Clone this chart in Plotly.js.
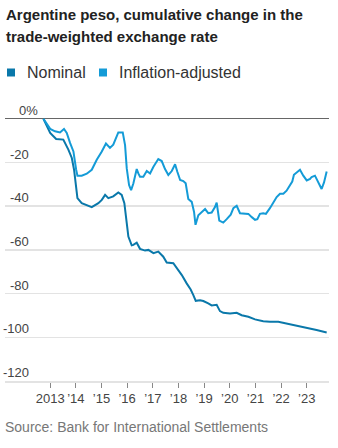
<!DOCTYPE html>
<html><head><meta charset="utf-8">
<script src="https://cdn.plot.ly/plotly-3.0.1.min.js"></script>
<style>html,body{margin:0;padding:0;background:#fff;}#chart{width:338px;height:448px;}</style>
</head><body><div id="chart"></div>
<script>
const nominalDates = ['2012-09-27','2013-01-01','2013-03-27','2013-07-07','2013-09-17','2013-11-05','2013-12-07','2014-01-24','2014-03-26','2014-08-16','2014-11-18','2015-01-06','2015-02-22','2015-04-09','2015-06-18','2015-08-29','2015-10-16','2015-11-23','2015-12-27','2016-01-19','2016-03-07','2016-03-30','2016-05-17','2016-07-03','2016-09-13','2016-10-30','2017-01-10','2017-03-20','2017-05-30','2017-07-18','2017-10-20','2017-12-31','2018-02-18','2018-04-28','2018-06-24','2018-08-01','2018-09-04','2018-11-04','2018-12-21','2019-03-01','2019-04-19','2019-06-29','2019-08-15','2019-10-01','2020-01-05','2020-04-09','2020-06-19','2020-09-22','2020-12-26','2021-04-22','2021-07-26','2021-11-22','2022-02-02','2022-06-23','2022-09-27','2023-01-01','2023-05-21','2023-10-12'];
const nominalValues = [0,-6.4,-9.2,-9.5,-14.1,-17.9,-23.3,-36.3,-38.6,-40.4,-38.6,-37.1,-34.8,-36.3,-35.5,-33.7,-34.8,-38.6,-47.7,-53.9,-57.9,-57.7,-56.7,-59.5,-60.3,-60,-61.5,-60.8,-63.1,-65.8,-66.1,-69.2,-71.5,-75.3,-78.1,-80.7,-83.3,-83,-83.4,-84.5,-85.4,-85.1,-88,-88.8,-89.1,-88.8,-89.9,-90.6,-91.8,-92.6,-92.9,-92.9,-93.4,-94.1,-94.8,-95.7,-96.7,-97.8];
const inflationDates = ['2012-09-27','2013-01-01','2013-03-11','2013-05-21','2013-07-17','2013-08-25','2013-10-11','2013-11-28','2014-01-06','2014-01-24','2014-03-26','2014-06-06','2014-08-16','2014-10-26','2015-01-06','2015-03-06','2015-05-02','2015-06-18','2015-08-29','2015-10-31','2015-12-03','2015-12-27','2016-01-29','2016-02-27','2016-03-30','2016-05-17','2016-06-09','2016-07-03','2016-08-19','2016-10-07','2016-11-23','2017-01-10','2017-03-20','2017-05-08','2017-06-24','2017-08-10','2017-09-28','2017-11-14','2017-12-16','2018-01-25','2018-03-11','2018-04-14','2018-05-21','2018-07-09','2018-08-11','2018-09-01','2018-10-11','2018-11-29','2019-01-15','2019-03-01','2019-04-19','2019-06-05','2019-06-29','2019-08-05','2019-10-01','2019-11-19','2020-01-15','2020-02-22','2020-04-09','2020-05-26','2020-08-06','2020-09-22','2020-11-10','2020-12-26','2021-01-28','2021-03-06','2021-04-22','2021-05-30','2021-07-26','2021-09-12','2021-10-30','2021-12-16','2022-02-02','2022-03-20','2022-05-07','2022-06-09','2022-07-03','2022-08-11','2022-09-27','2022-11-13','2023-01-01','2023-02-17','2023-03-12','2023-04-28','2023-06-14','2023-08-01','2023-09-04','2023-10-12'];
const inflationValues = [0,-4.6,-5.7,-6.2,-4.6,-6.4,-11,-14.9,-23.3,-26,-26,-25.1,-23.3,-18.7,-14.9,-11.3,-13.3,-11.8,-6.2,-6.2,-12,-22.7,-30.3,-32.6,-29.6,-23,-25,-26.5,-26.5,-23.9,-25,-21.9,-18.4,-19.3,-23,-25.7,-23.9,-20.8,-24.2,-28,-28.5,-29.5,-36.7,-38,-42.6,-48.5,-44.1,-42.6,-41.3,-43.2,-42.9,-40.4,-38.3,-46.6,-47.5,-45.9,-43.9,-40.9,-39.8,-43.2,-43.5,-43.5,-45,-46.2,-45.9,-43.5,-43.2,-43.5,-40.9,-38.3,-35.8,-34.3,-34.3,-32.9,-30.2,-28.7,-25.6,-24.5,-23.3,-26,-28.2,-27.5,-26.6,-26,-28.7,-32.1,-29.1,-24.1];
const xTickVals = ['2013-01-01','2014-01-01','2015-01-01','2016-01-01','2017-01-01','2018-01-01','2019-01-01','2020-01-01','2021-01-01','2022-01-01','2023-01-01'];
const xTickText = ['2013','\u201914','\u201915','\u201916','\u201917','\u201918','\u201919','\u201920','\u201921','\u201922','\u201923'];
const yTickVals = [0,-20,-40,-60,-80,-100,-120];
const yTickText = ['0%','-20','-40','-60','-80','-100','-120'];
const seriesNames = ['Nominal','Inflation-adjusted'];
const seriesColors = ['#0A78AA','#149BD7'];
const titleLines = ['Argentine peso, cumulative change in the', 'trade-weighted exchange rate'];
const sourceText = 'Source: Bank for International Settlements';

const W = 338, H = 448, L = 5, R = 9, T = 97, B = 67;
const PW = W - L - R, PH = H - T - B;
const px = x => (x - L) / PW;
const py = y => (H - B - y) / PH;
const sans = 'Liberation Sans, Arial, sans-serif';

const traces = [
  {x: nominalDates, y: nominalValues, type: 'scatter', mode: 'lines', name: seriesNames[0], line: {color: seriesColors[0], width: 2}, hoverinfo: 'skip'},
  {x: inflationDates, y: inflationValues, type: 'scatter', mode: 'lines', name: seriesNames[1], line: {color: seriesColors[1], width: 2}, hoverinfo: 'skip'}
];

const annotations = yTickVals.map((v, i) => ({
  xref: 'paper', yref: 'y', x: px(29), y: v, xanchor: 'right', yanchor: 'bottom',
  xshift: v === 0 ? 11 : 2, yshift: -1, showarrow: false, text: yTickText[i],
  font: {family: sans, size: 13, color: '#444'}
}));
const legendX = [7, 99];
const shapes = [];
seriesNames.forEach((n, i) => {
  shapes.push({type: 'rect', xref: 'paper', yref: 'paper', x0: px(legendX[i]), x1: px(legendX[i] + 8), y0: py(76.5), y1: py(68.5), fillcolor: seriesColors[i], line: {width: 0}});
  annotations.push({xref: 'paper', yref: 'paper', x: px(legendX[i] + 18), y: py(72), xanchor: 'left', yanchor: 'middle', showarrow: false, text: n, font: {family: sans, size: 16, color: '#333'}});
});
titleLines.forEach((t, i) => {
  annotations.push({xref: 'paper', yref: 'paper', x: px(4), y: py([15, 36.7][i]), xanchor: 'left', yanchor: 'middle', showarrow: false, text: '<b>' + t + '</b>', font: {family: sans, size: 15, color: '#222'}});
});
annotations.push({xref: 'paper', yref: 'paper', x: px(3), y: py(427), xanchor: 'left', yanchor: 'middle', showarrow: false, text: sourceText, font: {family: sans, size: 14, color: '#777'}});

const layout = {
  width: W, height: H,
  margin: {l: L, r: R, t: T, b: B, pad: 0},
  paper_bgcolor: '#fff', plot_bgcolor: '#fff',
  showlegend: false,
  xaxis: {type: 'date', range: ['2011-03-30', '2023-11-14'], tickvals: xTickVals, ticktext: xTickText, tickangle: 0,
    ticks: 'outside', ticklen: 5, tickwidth: 1, tickcolor: '#888', showgrid: false, zeroline: false,
    showline: true, linecolor: '#e3e3e3', linewidth: 1.5,
    tickfont: {family: sans, size: 13, color: '#444'}, fixedrange: true},
  yaxis: {range: [-120, 10], tickvals: yTickVals, showticklabels: false, ticks: '', showgrid: true, gridcolor: '#e3e3e3', gridwidth: 1.5,
    zeroline: true, zerolinecolor: '#666', zerolinewidth: 1, showline: false, fixedrange: true},
  annotations: annotations,
  shapes: shapes
};
Plotly.newPlot('chart', traces, layout, {displayModeBar: false, staticPlot: true});
</script></body></html>
